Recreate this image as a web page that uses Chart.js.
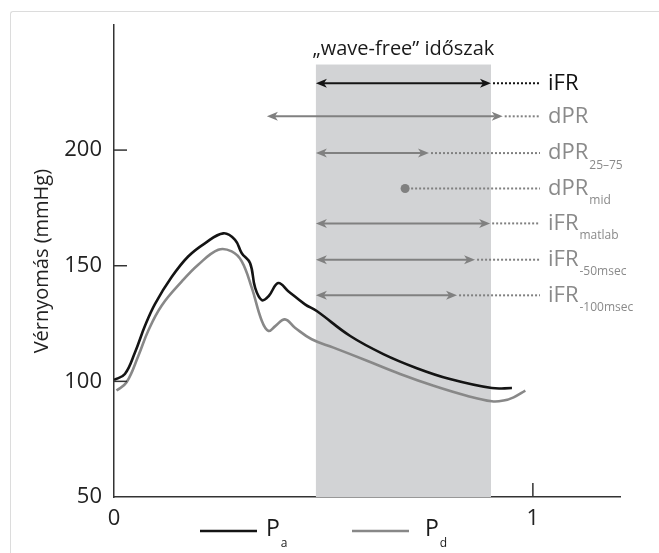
<!DOCTYPE html>
<html lang="hu">
<head>
<meta charset="UTF-8">
<title>Vérnyomás</title>
<style>
  body { margin: 0; background: #fff; }
  .frame { position: absolute; left: 10px; top: 11px; width: 700px; height: 600px;
           border-top: 1px solid #dcdcdc; border-left: 1px solid #dcdcdc; border-top-left-radius: 3px; }
  canvas { position: absolute; left: 0; top: 0; }
</style>
</head>
<body>
<div class="frame"></div>
<canvas id="myChart" width="659" height="553"></canvas>
<script src="https://cdn.jsdelivr.net/npm/chart.js"></script>
<script>
// P_a (aorta) gorbe
var paX = [0, 0.026, 0.050, 0.074, 0.098, 0.138, 0.177, 0.217, 0.261, 0.289, 0.305, 0.325, 0.337, 0.353, 0.369, 0.392, 0.416, 0.456, 0.484, 0.564, 0.643, 0.723, 0.802, 0.902, 0.950];
var paY = [100.6, 103.2, 112.5, 124.0, 133.5, 145.2, 154.0, 159.7, 164.0, 161.2, 155.4, 151.1, 140.4, 135.1, 136.8, 142.5, 139.0, 133.3, 130.4, 119.6, 111.8, 105.7, 101.0, 97.1, 97.1];
// P_d (disztalis) gorbe
var pdX = [0.006, 0.030, 0.058, 0.082, 0.114, 0.162, 0.201, 0.249, 0.281, 0.305, 0.329, 0.353, 0.369, 0.385, 0.408, 0.432, 0.472, 0.524, 0.604, 0.683, 0.763, 0.842, 0.902, 0.930, 0.954, 0.982];
var pdY = [96.0, 99.6, 111.0, 122.0, 132.8, 143.2, 150.4, 156.9, 156.2, 151.9, 140.4, 126.1, 121.8, 123.9, 126.8, 123.2, 118.2, 114.6, 108.9, 103.2, 98.1, 93.8, 91.4, 91.7, 93.1, 96.0];

// "wave-free" idoszak
var waveFree = [0.482, 0.900];
var waveFreeTop = 237;

// modszerek (nyilak)
var methodNames = ['iFR', 'dPR', 'dPR', 'dPR', 'iFR', 'iFR', 'iFR'];
var methodSubs = ['', '', '25\u201375', 'mid', 'matlab', '-50msec', '-100msec'];
var methodY = [228.9, 214.6, 198.7, 183.4, 168.3, 152.6, 137.2];
var methodStart = [0.482, 0.365, 0.482, 0.695, 0.482, 0.482, 0.482];
var methodEnd = [0.900, 0.928, 0.752, 0.695, 0.898, 0.862, 0.819];

var FONT = '"Open Sans", sans-serif';

function pontok(xs, ys) {
  var lista = [];
  for (var i = 0; i < xs.length; i++) lista.push({x: xs[i], y: ys[i]});
  return lista;
}

function nyilhegy(ctx, x, y, dir) {
  ctx.beginPath();
  ctx.moveTo(x, y);
  ctx.lineTo(x - dir * 11, y - 4.5);
  ctx.lineTo(x - dir * 8, y);
  ctx.lineTo(x - dir * 11, y + 4.5);
  ctx.closePath();
  ctx.fill();
}

const hatterPlugin = {
  id: 'hatter',
  beforeDatasetsDraw(chart) {
    const ctx = chart.ctx, xs = chart.scales.x, ys = chart.scales.y;
    const x0 = xs.getPixelForValue(waveFree[0]);
    const x1 = xs.getPixelForValue(waveFree[1]);
    const top = ys.getPixelForValue(waveFreeTop);
    ctx.save();
    ctx.fillStyle = '#d2d3d5';
    ctx.fillRect(x0, top, x1 - x0, chart.chartArea.bottom - top);
    ctx.fillStyle = '#1a1a1a';
    ctx.font = '20px ' + FONT;
    ctx.textAlign = 'center';
    ctx.textBaseline = 'middle';
    ctx.fillText('\u201ewave-free\u201d id\u0151szak', (x0 + x1) / 2, top - 15);
    ctx.restore();
  },
  afterDatasetsDraw(chart) {
    const ctx = chart.ctx, xs = chart.scales.x, ys = chart.scales.y;
    const dotEnd = chart.chartArea.left + 426;
    const textX = chart.chartArea.left + 434;
    ctx.save();
    for (var i = 0; i < methodNames.length; i++) {
      var szin = i == 0 ? '#141414' : '#808080';
      var y = ys.getPixelForValue(methodY[i]);
      var a = xs.getPixelForValue(methodStart[i]);
      var b = xs.getPixelForValue(methodEnd[i]);
      ctx.strokeStyle = szin;
      ctx.fillStyle = szin;
      if (a == b) {
        ctx.beginPath();
        ctx.arc(a, y, 4.5, 0, Math.PI * 2);
        ctx.fill();
      } else {
        ctx.lineWidth = 2;
        ctx.setLineDash([]);
        ctx.beginPath();
        ctx.moveTo(a + 8, y);
        ctx.lineTo(b - 8, y);
        ctx.stroke();
        nyilhegy(ctx, a, y, -1);
        nyilhegy(ctx, b, y, 1);
      }
      // pontozott vonal a felirathoz
      ctx.lineWidth = 2;
      ctx.setLineDash([2, 2]);
      ctx.beginPath();
      ctx.moveTo(b + 2, y);
      ctx.lineTo(dotEnd, y);
      ctx.stroke();
      ctx.setLineDash([]);
      // felirat
      ctx.fillStyle = i == 0 ? '#111' : '#8a8a8a';
      ctx.textAlign = 'left';
      ctx.textBaseline = 'middle';
      ctx.font = '22px ' + FONT;
      ctx.fillText(methodNames[i], textX, y);
      if (methodSubs[i]) {
        var w = ctx.measureText(methodNames[i]).width;
        ctx.font = '12px ' + FONT;
        ctx.fillText(methodSubs[i], textX + w + 1, y + 12);
      }
    }
    ctx.restore();
  },
  afterDraw(chart) {
    const ctx = chart.ctx, xs = chart.scales.x, ys = chart.scales.y, area = chart.chartArea;
    ctx.save();
    // befele allo osztasok
    ctx.strokeStyle = '#333';
    ctx.lineWidth = 1.5;
    ys.ticks.forEach(function (t) {
      if (t.value <= ys.min || t.value > 200) return;
      var y = ys.getPixelForValue(t.value);
      ctx.beginPath(); ctx.moveTo(area.left, y); ctx.lineTo(area.left + 13, y); ctx.stroke();
    });
    xs.ticks.forEach(function (t) {
      if (t.value <= xs.min) return;
      var x = xs.getPixelForValue(t.value);
      ctx.beginPath(); ctx.moveTo(x, area.bottom); ctx.lineTo(x, area.bottom - 14); ctx.stroke();
    });
    // jelmagyarazat
    var ly = area.bottom + 34;
    var tetelek = [['a', '#141414', 200, 266], ['d', '#888888', 352, 425]];
    tetelek.forEach(function (t) {
      ctx.strokeStyle = t[1];
      ctx.lineWidth = 2.5;
      ctx.beginPath(); ctx.moveTo(t[2], ly); ctx.lineTo(t[2] + 57, ly); ctx.stroke();
      ctx.fillStyle = '#1a1a1a';
      ctx.textAlign = 'left';
      ctx.textBaseline = 'middle';
      ctx.font = '23px ' + FONT;
      ctx.fillText('P', t[3], ly - 2);
      var w = ctx.measureText('P').width;
      ctx.font = '12px ' + FONT;
      ctx.fillText(t[0], t[3] + w + 1, ly + 13);
    });
    ctx.restore();
  }
};

const ctx = document.getElementById('myChart');

new Chart(ctx, {
  type: 'line',
  data: {
    datasets: [{
      label: 'Pa',
      data: pontok(paX, paY),
      borderColor: '#141414',
      borderWidth: 2.6,
      pointRadius: 0,
      tension: 0.4
    }, {
      label: 'Pd',
      data: pontok(pdX, pdY),
      borderColor: '#888888',
      borderWidth: 2.6,
      pointRadius: 0,
      tension: 0.4
    }]
  },
  options: {
    responsive: false,
    animation: false,
    layout: { padding: { left: 26, top: 23, right: 39, bottom: 26 } },
    plugins: {
      legend: { display: false },
      tooltip: { enabled: false }
    },
    scales: {
      x: {
        type: 'linear',
        min: 0,
        max: 1.208,
        grid: { display: false, drawTicks: false },
        border: { display: true, color: '#333', width: 1.5 },
        ticks: { stepSize: 1, includeBounds: false, padding: 9, color: '#222', font: { family: FONT, size: 22 } },
        afterFit: function (scale) { scale.height = 30; }
      },
      y: {
        min: 50,
        max: 254,
        grid: { display: false, drawTicks: false },
        border: { display: true, color: '#333', width: 1.5 },
        ticks: {
          stepSize: 50, includeBounds: false, padding: 12, color: '#222', font: { family: FONT, size: 22 },
          callback: function (v) { return v > 200 ? '' : v; }
        },
        title: { display: true, text: 'Vérnyomás (mmHg)', color: '#222', font: { family: FONT, size: 20 }, padding: 4 },
        afterFit: function (scale) { scale.width = 88; }
      }
    }
  },
  plugins: [hatterPlugin]
});
</script>
</body>
</html>
